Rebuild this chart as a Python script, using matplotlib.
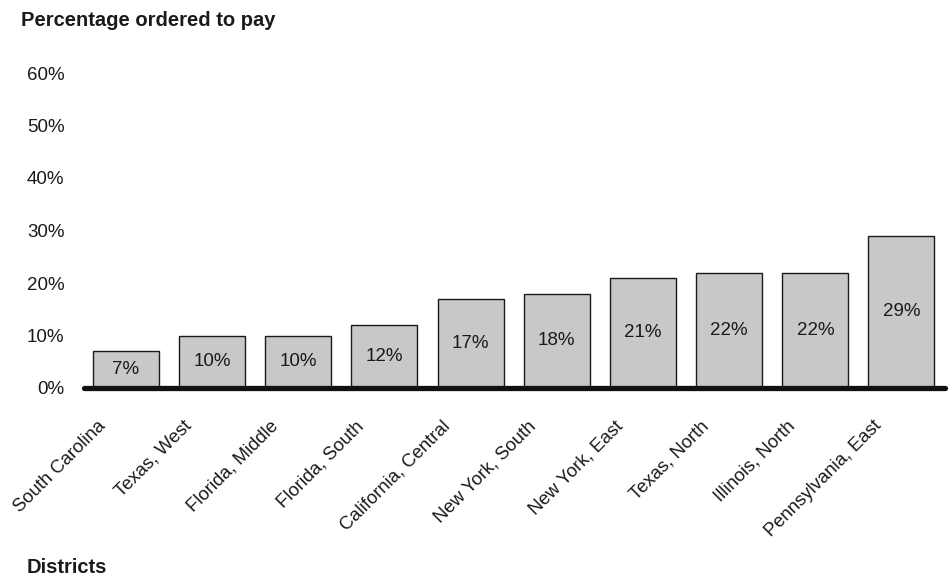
import numpy as np
import matplotlib
matplotlib.use("Agg")
from matplotlib import pyplot as plt
from matplotlib.transforms import ScaledTranslation

districts = ["South Carolina", "Texas, West", "Florida, Middle", "Florida, South",
             "California, Central", "New York, South", "New York, East",
             "Texas, North", "Illinois, North", "Pennsylvania, East"]
pct_paid = [7, 10, 10, 12, 17, 18, 21, 22, 22, 29]
yticks = [0, 10, 20, 30, 40, 50, 60]

plt.rcParams['font.family'] = ['Liberation Sans', 'DejaVu Sans']

fig = plt.figure(figsize=(9.53, 5.79), dpi=100)
ax = fig.add_axes([84/953, 1-388/579, (945-84)/953, (388-73)/579])

x = np.arange(len(districts))
bars = ax.bar(x, pct_paid, width=0.766, color='#c8c8ca', edgecolor='#1a1a1a',
              linewidth=1.0, zorder=2)

# value labels sit in the middle of each bar
for xi, v in zip(x, pct_paid):
    ax.text(xi, v/2, "%d%%" % v, ha='center', va='center', fontsize=13.5,
            color='#1a1a1a', zorder=3)

ax.set_xlim(-0.487, 9.505)
ax.set_ylim(0, 60)

# thick baseline
ax.plot([-0.487, 9.505], [0, 0], color='#111111', linewidth=3.8,
        solid_capstyle='round', clip_on=False, zorder=4)

ax.set_yticks(yticks)
ax.set_yticklabels(["%d%%" % t for t in yticks], fontsize=13.5, color='#1a1a1a')
ax.tick_params(axis='y', length=0, pad=14)

ax.set_xticks(x)
ax.set_xticklabels(districts, rotation=45, ha='right', va='center',
                   rotation_mode='anchor', fontsize=13.3, color='#1a1a1a')
ax.tick_params(axis='x', length=0, pad=25.5)
off = ScaledTranslation(-23/100, 0, fig.dpi_scale_trans)
for lbl in ax.get_xticklabels():
    lbl.set_transform(lbl.get_transform() + off)

for s in ax.spines.values():
    s.set_visible(False)

fig.text(21/953, 1-26/579, "Percentage ordered to pay", fontsize=14.5,
         fontweight='bold', color='#1a1a1a', ha='left', va='baseline')
fig.text(27/953, 1-573/579, "Districts", fontsize=14.5,
         fontweight='bold', color='#1a1a1a', ha='left', va='baseline')

fig.savefig("out.png", dpi=100)
